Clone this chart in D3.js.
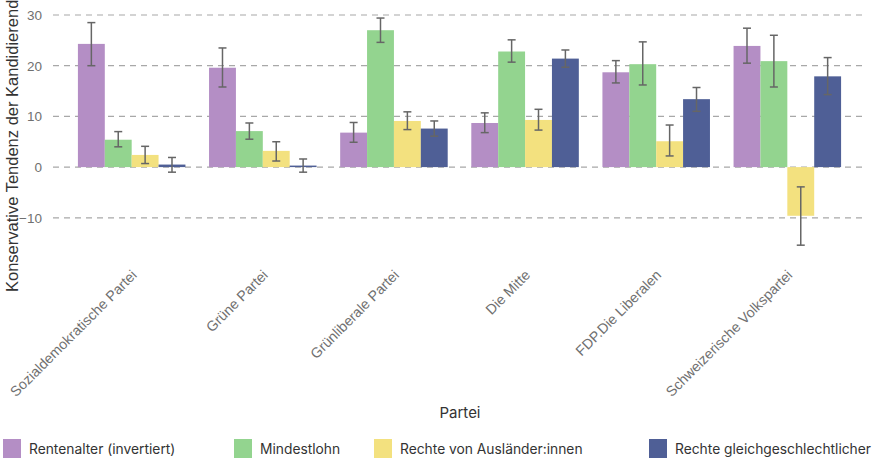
<!DOCTYPE html>
<html><head><meta charset="utf-8">
<script src="https://cdn.jsdelivr.net/npm/d3@7"></script>
<style>body{margin:0;background:#fff}svg{display:block}</style>
</head><body>
<svg id="c" width="873" height="472"></svg>
<script>
const parties = ["Sozialdemokratische Partei","Grüne Partei","Grünliberale Partei","Die Mitte","FDP.Die Liberalen","Schweizerische Volkspartei"];
const seriesNames = ["Rentenalter (invertiert)","Mindestlohn","Rechte von Ausländer:innen","Rechte gleichgeschlechtlicher"];
const colors = ["#b48ec5","#93d48f","#f3e17f","#4f5f96"];
// values per series (same order as parties)
const rentenalter = [24.3, 19.6, 6.8, 8.7, 18.7, 23.9];
const rentenalterLo = [20.0, 15.8, 4.9, 6.8, 16.6, 20.5];
const rentenalterHi = [28.5, 23.5, 8.8, 10.7, 21.0, 27.4];
const mindestlohn = [5.4, 7.1, 27.0, 22.8, 20.3, 20.9];
const mindestlohnLo = [4.0, 5.5, 24.6, 20.7, 16.2, 15.8];
const mindestlohnHi = [7.0, 8.7, 29.4, 25.1, 24.7, 26.0];
const auslaender = [2.4, 3.2, 9.1, 9.3, 5.1, -9.6];
const auslaenderLo = [0.7, 1.2, 7.4, 7.3, 2.2, -15.4];
const auslaenderHi = [4.1, 5.0, 10.9, 11.4, 8.3, -3.9];
const gleich = [0.5, 0.3, 7.6, 21.4, 13.4, 17.9];
const gleichLo = [-1.0, -1.0, 6.1, 19.7, 11.0, 14.3];
const gleichHi = [1.9, 1.6, 9.1, 23.1, 15.7, 21.6];
const yTicks = [-10, 0, 10, 20, 30];

const seriesVals = [rentenalter, mindestlohn, auslaender, gleich];
const seriesLo = [rentenalterLo, mindestlohnLo, auslaenderLo, gleichLo];
const seriesHi = [rentenalterHi, mindestlohnHi, auslaenderHi, gleichHi];

const svg = d3.select("#c");
const x0 = d3.scaleBand().domain(parties).range([53, 866]).paddingInner(0.18).paddingOuter(0.19);
const x1 = d3.scaleBand().domain(seriesNames).range([0, x0.bandwidth()]);
const y = d3.scaleLinear().domain([-10, 30]).range([217.8, 15]);

// grid
const yAxis = d3.axisLeft(y).tickValues(yTicks).tickSize(0).tickPadding(6);
const ga = svg.append("g").attr("transform","translate(48,0)").call(yAxis);
ga.select(".domain").remove();
ga.selectAll("text").attr("fill","#707070").style("font-family","'Liberation Sans',Arial,sans-serif").style("font-size","13.5px");
svg.append("g").selectAll("line").data(yTicks).join("line")
  .attr("x1",53).attr("x2",866).attr("y1",d=>y(d)).attr("y2",d=>y(d))
  .attr("stroke","#a8a8a8").attr("stroke-width",1.2).attr("stroke-dasharray","6,5");

// bars
const rows = [];
seriesNames.forEach((s,si)=>parties.forEach((p,pi)=>rows.push({p,s,si,v:seriesVals[si][pi],lo:seriesLo[si][pi],hi:seriesHi[si][pi]})));
svg.append("g").selectAll("rect").data(rows).join("rect")
  .attr("x",d=>x0(d.p)+x1(d.s)).attr("width",x1.bandwidth())
  .attr("y",d=>y(Math.max(0,d.v))).attr("height",d=>Math.abs(y(d.v)-y(0)))
  .attr("fill",d=>colors[d.si]);

// error bars
const eb = svg.append("g").attr("stroke","#666").attr("stroke-width",1.5).attr("fill","none");
rows.forEach(d=>{
  const cx = x0(d.p)+x1(d.s)+x1.bandwidth()/2;
  eb.append("line").attr("x1",cx).attr("x2",cx).attr("y1",y(d.lo)).attr("y2",y(d.hi));
  eb.append("line").attr("x1",cx-4).attr("x2",cx+4).attr("y1",y(d.lo)).attr("y2",y(d.lo));
  eb.append("line").attr("x1",cx-4).attr("x2",cx+4).attr("y1",y(d.hi)).attr("y2",y(d.hi));
});

// x axis labels
const xa = d3.axisBottom(x0).tickSize(0).tickPadding(0);
const gx = svg.append("g").attr("transform","translate(0,262)").call(xa);
gx.select(".domain").remove();
gx.selectAll("text").attr("fill","#707070").style("font-family","'Liberation Sans',Arial,sans-serif").style("font-size","14.2px")
  .attr("text-anchor","end").attr("dy","0").attr("transform","translate(6,14) rotate(-45)");

// axis titles
svg.append("text").attr("transform","translate(18,292) rotate(-90)").attr("text-anchor","start")
  .style("font-family","'Liberation Sans',Arial,sans-serif").style("font-size","16.5px").attr("fill","#333")
  .text("Konservative Tendenz der Kandidierenden");
svg.append("text").attr("x",460).attr("y",418).attr("text-anchor","middle")
  .style("font-family","Inter,sans-serif").style("font-size","15px").attr("fill","#333").text("Partei");

// legend
const legX = [3, 234, 374, 649];
const lg = svg.append("g").selectAll("g").data(seriesNames).join("g").attr("transform",(d,i)=>`translate(${legX[i]},439)`);
lg.append("rect").attr("width",18).attr("height",19).attr("fill",(d,i)=>colors[i]);
lg.append("text").attr("x",26).attr("y",14.5).style("font-family","Inter,sans-serif").style("font-size","13.8px").attr("fill","#333").text(d=>d);
</script>
</body></html>
